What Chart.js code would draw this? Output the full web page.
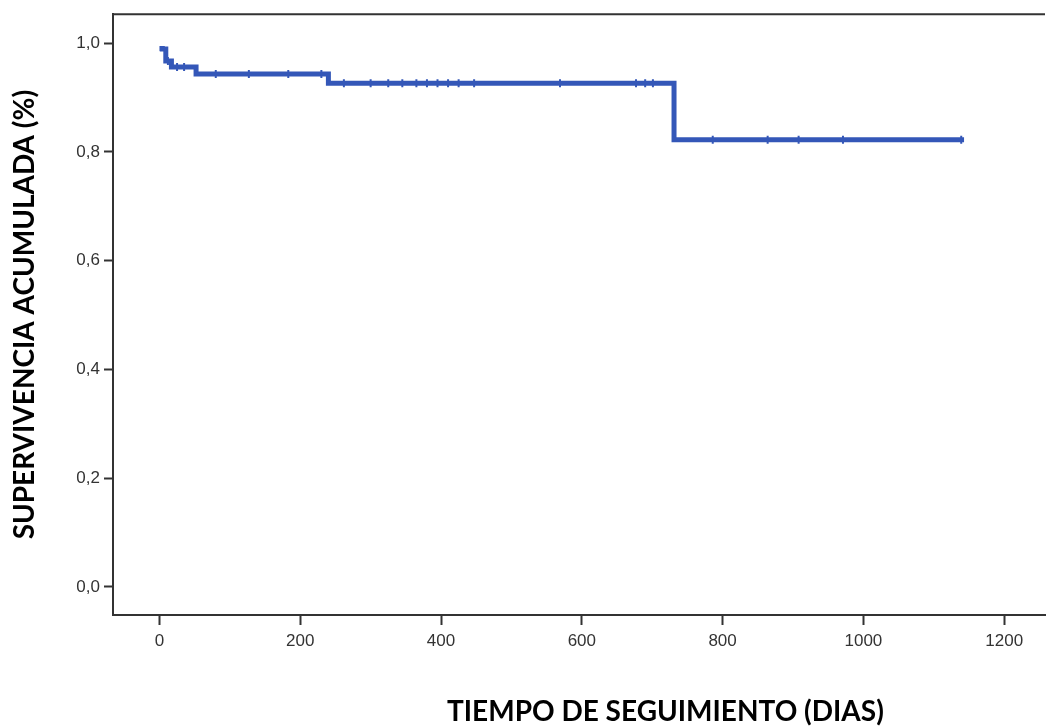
<!DOCTYPE html>
<html>
<head>
<meta charset="utf-8">
<script src="https://cdn.jsdelivr.net/npm/chart.js@4.4.1/dist/chart.umd.min.js"></script>
<style>
  html, body { margin: 0; padding: 0; background: #fff; }
  #wrap { width: 1051px; height: 727px; position: relative; }
  #xtitle {
    position: absolute; left: 447px; top: 693px;
    font: bold 28px Lato, sans-serif; color: #000; white-space: nowrap;
  }
</style>
</head>
<body>
<div id="wrap">
  <canvas id="km"></canvas>
  <div id="xtitle">TIEMPO DE SEGUIMIENTO (DIAS)</div>
</div>
<script>
// Kaplan-Meier step points (day, cumulative survival)
const stepDays = [0, 4, 9, 17, 52, 240, 731, 1143];
const survival = [0.99, 0.989, 0.967, 0.956, 0.943, 0.926, 0.822, 0.822];

// censored cases (day, survival at that moment)
const censorDays = [12, 25, 35, 80, 127, 183, 230, 262, 300, 325, 345, 365, 380, 395, 410, 425, 447, 569, 677, 690, 701, 786, 864, 908, 971, 1139];
const censorSurv = [0.967, 0.956, 0.956, 0.943, 0.943, 0.943, 0.943, 0.926, 0.926, 0.926, 0.926, 0.926, 0.926, 0.926, 0.926, 0.926, 0.926, 0.926, 0.926, 0.926, 0.926, 0.822, 0.822, 0.822, 0.822, 0.822];

const xTicks = [0, 200, 400, 600, 800, 1000, 1200];
const yTicks = [0, 0.2, 0.4, 0.6, 0.8, 1.0];

const lineColor = "#3457b8";
const axisColor = "#333333";
const tickFont = { family: "'Liberation Sans', Arial, sans-serif", size: 17 };

// top frame line of the plot area
const frameTop = {
  id: "frameTop",
  afterDraw(chart) {
    const { ctx, chartArea } = chart;
    ctx.save();
    ctx.strokeStyle = axisColor;
    ctx.lineWidth = 2;
    ctx.beginPath();
    ctx.moveTo(chartArea.left - 1, chartArea.top);
    ctx.lineTo(chartArea.right, chartArea.top);
    ctx.stroke();
    ctx.restore();
  },
};

new Chart(document.getElementById("km"), {
  type: "line",
  data: {
    datasets: [
      {
        label: "Supervivencia",
        data: stepDays.map((d, i) => ({ x: d, y: survival[i] })),
        stepped: "before",
        borderColor: lineColor,
        borderWidth: 5,
        pointRadius: 0,
        fill: false,
      },
      {
        label: "Censurado",
        type: "scatter",
        data: censorDays.map((d, i) => ({ x: d, y: censorSurv[i] })),
        pointStyle: "line",
        rotation: 90,
        radius: 4,
        borderColor: lineColor,
        borderWidth: 2,
      },
    ],
  },
  options: {
    responsive: true,
    maintainAspectRatio: false,
    animation: false,
    layout: { padding: { top: 14, right: 0, left: 0, bottom: 0 } },
    plugins: {
      legend: { display: false },
      tooltip: { enabled: false },
    },
    scales: {
      x: {
        type: "linear",
        min: -66,
        max: 1258,
        afterBuildTicks: (scale) => {
          scale.ticks = xTicks.map((v) => ({ value: v }));
        },
        afterFit: (scale) => {
          scale.height = 112;
        },
        grid: {
          drawOnChartArea: false,
          tickLength: 10,
          tickWidth: 2,
          tickColor: axisColor,
        },
        border: { color: axisColor, width: 2 },
        ticks: {
          color: "#333",
          padding: 6,
          maxRotation: 0,
          font: tickFont,
          callback: (v) => String(v),
        },
      },
      y: {
        min: -0.0515,
        max: 1.053,
        afterBuildTicks: (scale) => {
          scale.ticks = yTicks.map((v) => ({ value: v }));
        },
        afterFit: (scale) => {
          scale.width = 113;
        },
        grid: {
          drawOnChartArea: false,
          tickLength: 9,
          tickWidth: 2,
          tickColor: axisColor,
        },
        border: { color: axisColor, width: 2 },
        ticks: {
          color: "#333",
          padding: 4,
          font: tickFont,
          callback: (v) => v.toFixed(1).replace(".", ","),
        },
        title: {
          display: true,
          text: "SUPERVIVENCIA ACUMULADA (%)",
          color: "#000",
          padding: { top: 8, bottom: 0 },
          font: { family: "Lato, sans-serif", size: 28, weight: "bold" },
        },
      },
    },
  },
  plugins: [frameTop],
});
</script>
</body>
</html>
